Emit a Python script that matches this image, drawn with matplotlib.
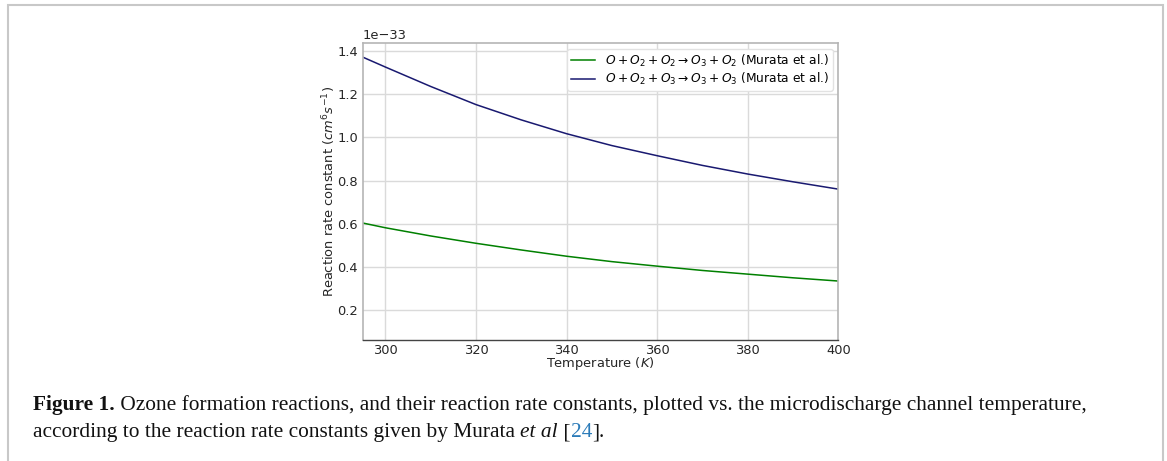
import matplotlib
matplotlib.use('Agg')
import matplotlib.pyplot as plt
import matplotlib.patches as patches
import numpy as np

# values (units of 1e-33 cm^6 s^-1)
temps = [295, 300, 310, 320, 330, 340, 350, 360, 370, 380, 390, 400]
k_o2 = [0.603, 0.581, 0.543, 0.509, 0.478, 0.449, 0.424, 0.403, 0.383, 0.366, 0.349, 0.334]
k_o3 = [1.372, 1.326, 1.236, 1.152, 1.081, 1.017, 0.962, 0.915, 0.870, 0.830, 0.794, 0.760]

lbl_o2 = r'$O + O_2 + O_2 \rightarrow O_3 + O_2$ (Murata et al.)'
lbl_o3 = r'$O + O_2 + O_3 \rightarrow O_3 + O_3$ (Murata et al.)'

W, H = 1167, 461
fig = plt.figure(figsize=(W / 100, H / 100), dpi=100)
fig.patch.set_facecolor('white')

# grey frame round the figure + caption
fig.patches.append(patches.Rectangle((7.5 / W, -0.05), (1163 - 7.5) / W, 1 - 5.5 / H + 0.05,
                                     transform=fig.transFigure, fill=False,
                                     edgecolor='#c8c8c8', linewidth=1.5))

ax = fig.add_axes([362.7 / W, 1 - 339.5 / H, (838.3 - 362.7) / W, (339.5 - 43.3) / H])
ax.plot(temps, np.array(k_o2) * 1e-33, color='green', lw=1.1, label=lbl_o2)
ax.plot(temps, np.array(k_o3) * 1e-33, color='midnightblue', lw=1.1, label=lbl_o3)

ax.set_xlim(295, 400)
ax.set_ylim(0.063e-33, 1.436e-33)
ax.set_xticks([300, 320, 340, 360, 380, 400])
ax.set_yticks(np.array([0.2, 0.4, 0.6, 0.8, 1.0, 1.2, 1.4]) * 1e-33)
ax.grid(True, color='#dadada', lw=1.0)
ax.set_axisbelow(True)
ax.tick_params(length=0, labelsize=9.4, labelcolor='#262626', pad=3.5)
ax.yaxis.get_offset_text().set_fontsize(9.4)
for s in ['top', 'right', 'left']:
    ax.spines[s].set_color('#b5b5b5')
    ax.spines[s].set_linewidth(1.2)
ax.spines['bottom'].set_color('#444444')
ax.spines['bottom'].set_linewidth(1.0)

ax.set_xlabel('Temperature ($K$)', fontsize=9.4, color='#262626', labelpad=-1.5)
ax.set_ylabel('Reaction rate constant ($cm^6 s^{-1}$)', fontsize=9.4, color='#262626', labelpad=-1)
leg = ax.legend(loc='upper right', fontsize=8.8, frameon=True, fancybox=True, framealpha=1.0,
                edgecolor='#e2e2e2', borderaxespad=0.45, handlelength=2.0,
                labelspacing=0.2, borderpad=0.3)

# caption, written piece by piece
cap1 = [('Figure 1.', 'bold', 'normal', '#111111'),
        (' Ozone formation reactions, and their reaction rate constants, plotted vs. the microdischarge channel temperature,',
         'normal', 'normal', '#111111')]
cap2 = [('according to the reaction rate constants given by Murata ', 'normal', 'normal', '#111111'),
        ('et al', 'normal', 'italic', '#111111'),
        (' [', 'normal', 'normal', '#111111'),
        ('24', 'normal', 'normal', '#2b7bb9'),
        (']', 'normal', 'normal', '#111111'),
        ('.', 'normal', 'normal', '#111111')]

renderer = fig.canvas.get_renderer()


def put_line(pieces, x0, y0, size):
    x = x0
    for txt, wt, st, col in pieces:
        t = fig.text(x / W, 1 - y0 / H, txt, fontsize=size, fontweight=wt, fontstyle=st,
                     color=col, family='Liberation Serif', va='baseline', ha='left')
        x += t.get_window_extent(renderer).width
    return x


# fit the first line to the width it has in the reference
probe = [fig.text(0, 0, p[0], fontsize=11, fontweight=p[1], family='Liberation Serif') for p in cap1]
w = sum(p.get_window_extent(renderer).width for p in probe)
for p in probe:
    p.remove()
size = 11 * (1085 - 33) / w

put_line(cap1, 33, 410, size)
put_line(cap2, 33, 437, size)

fig.savefig('out.png', dpi=100)
